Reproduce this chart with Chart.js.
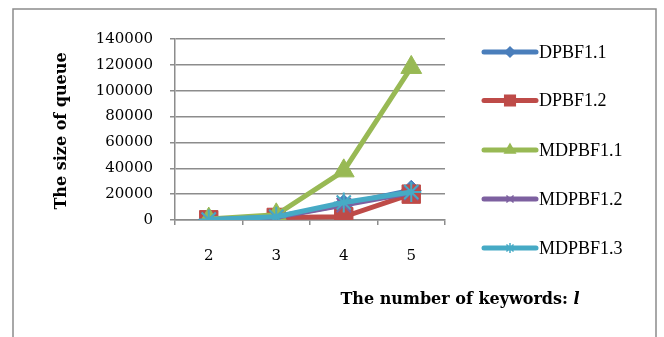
<!DOCTYPE html>
<html>
<head>
<meta charset="utf-8">
<script src="https://cdn.jsdelivr.net/npm/chart.js@4/dist/chart.umd.min.js"></script>
<style>
  html, body { margin: 0; padding: 0; background: #fff; }
  #wrap { width: 664px; height: 337px; position: relative; }
</style>
</head>
<body>
<div id="wrap"><canvas id="c" width="664" height="337"></canvas></div>
<script>
// Number of keywords l
const keywords = ['2', '3', '4', '5'];

// Queue sizes per method
const dpbf11 = [300, 2500, 12000, 23000];
const dpbf12 = [200, 2000, 2500, 20000];
const mdpbf11 = [700, 4000, 38000, 118000];
const mdpbf12 = [200, 2200, 11500, 21000];
const mdpbf13 = [300, 2500, 13500, 21700];

const yTicks = [0, 20000, 40000, 60000, 80000, 100000, 120000, 140000];

const serif = '"Liberation Serif", "Times New Roman", serif';
const wideSerif = '"DejaVu Serif", serif';

const series = [
  { label: 'DPBF1.1', data: dpbf11, color: '#4a7ebb', style: 'rectRot', r: 10, lr: 5 },
  { label: 'DPBF1.2', data: dpbf12, color: '#be4b48', style: 'rect', r: 13, lr: 7.5 },
  { label: 'MDPBF1.1', data: mdpbf11, color: '#98b954', style: 'triangle', r: 12, lr: 6 },
  { label: 'MDPBF1.2', data: mdpbf12, color: '#7d60a0', style: 'crossRot', r: 10, lr: 5 },
  { label: 'MDPBF1.3', data: mdpbf13, color: '#46aac5', style: 'star', r: 10, lr: 5 }
];

// Outer frame, axis titles and the legend on the right
const decorations = {
  id: 'decorations',
  beforeDraw(chart) {
    const ctx = chart.ctx;
    ctx.save();
    ctx.fillStyle = '#fff';
    ctx.fillRect(0, 0, chart.width, chart.height);
    ctx.strokeStyle = '#8c8c8c';
    ctx.lineWidth = 1.5;
    ctx.beginPath();
    ctx.moveTo(13, 340);
    ctx.lineTo(13, 9);
    ctx.lineTo(656, 9);
    ctx.lineTo(656, 340);
    ctx.stroke();
    ctx.restore();
  },
  afterDraw(chart) {
    const ctx = chart.ctx;
    ctx.save();
    ctx.fillStyle = '#000';
    // y title
    ctx.font = 'bold 16px ' + wideSerif;
    ctx.textAlign = 'center';
    ctx.textBaseline = 'middle';
    ctx.translate(62, 131);
    ctx.rotate(-Math.PI / 2);
    ctx.fillText('The size of queue', 0, 0);
    ctx.restore();

    // x title with italic variable
    ctx.save();
    ctx.fillStyle = '#000';
    ctx.textBaseline = 'middle';
    const part1 = 'The number of keywords: ';
    const part2 = 'l';
    ctx.font = 'bold 16px ' + wideSerif;
    const w1 = ctx.measureText(part1).width;
    ctx.font = 'bold italic 16px ' + wideSerif;
    const w2 = ctx.measureText(part2).width;
    const x0 = 460 - (w1 + w2) / 2;
    ctx.font = 'bold 16px ' + wideSerif;
    ctx.textAlign = 'left';
    ctx.fillText(part1, x0, 300);
    ctx.font = 'bold italic 16px ' + wideSerif;
    ctx.fillText(part2, x0 + w1, 300);
    ctx.restore();

    // legend
    ctx.save();
    const ys = [52, 100.5, 150, 199, 248];
    chart.data.datasets.forEach((ds, i) => {
      const y = ys[i];
      ctx.strokeStyle = ds.borderColor;
      ctx.lineWidth = 5;
      ctx.lineCap = 'round';
      ctx.beginPath();
      ctx.moveTo(484, y);
      ctx.lineTo(536, y);
      ctx.stroke();
      ctx.fillStyle = ds.borderColor;
      ctx.strokeStyle = ds.borderColor;
      ctx.lineWidth = 1.5;
      ctx.lineCap = 'butt';
      Chart.helpers.drawPoint(ctx, {
        pointStyle: ds.pointStyle,
        radius: series[i].lr,
        rotation: 0,
        borderWidth: 1.5
      }, 510, y);
      ctx.fillStyle = '#000';
      ctx.font = '18px ' + serif;
      ctx.textAlign = 'left';
      ctx.textBaseline = 'middle';
      ctx.fillText(ds.label, 539, y + 1);
    });
    ctx.restore();
  }
};

new Chart(document.getElementById('c'), {
  type: 'line',
  data: {
    labels: keywords,
    datasets: series.map((s, i) => ({
      label: s.label,
      data: s.data,
      order: series.length - 1 - i,
      borderColor: s.color,
      backgroundColor: s.color,
      borderWidth: 5,
      pointStyle: s.style,
      pointRadius: s.r,
      pointBorderColor: s.color,
      pointBackgroundColor: s.color,
      pointBorderWidth: s.style === 'star' || s.style === 'crossRot' ? 2 : 1,
      tension: 0,
      fill: false
    }))
  },
  options: {
    responsive: false,
    animation: false,
    devicePixelRatio: 1,
    layout: { padding: { left: 0, right: 219, top: 39, bottom: 0 } },
    plugins: {
      legend: { display: false },
      tooltip: { enabled: false }
    },
    scales: {
      x: {
        type: 'category',
        offset: true,
        grid: {
          display: true,
          offset: true,
          drawOnChartArea: false,
          drawTicks: true,
          tickLength: 5,
          color: '#8c8c8c',
          lineWidth: 1.5
        },
        border: { display: true, color: '#8c8c8c', width: 1.5 },
        ticks: {
          color: '#000',
          font: { family: wideSerif, size: 15 },
          padding: 22,
          maxRotation: 0
        },
        afterFit(scale) { scale.height = 117; }
      },
      y: {
        min: 0,
        max: 140000,
        afterBuildTicks(scale) { scale.ticks = yTicks.map(v => ({ value: v })); },
        grid: {
          color: '#8c8c8c',
          lineWidth: 1.5,
          drawTicks: true,
          tickLength: 5
        },
        border: { display: true, color: '#8c8c8c', width: 1.5 },
        ticks: {
          color: '#000',
          font: { family: wideSerif, size: 15 },
          padding: 17,
          callback: v => String(v)
        },
        afterFit(scale) { scale.width = 175; }
      }
    }
  },
  plugins: [decorations]
});
</script>
</body>
</html>
